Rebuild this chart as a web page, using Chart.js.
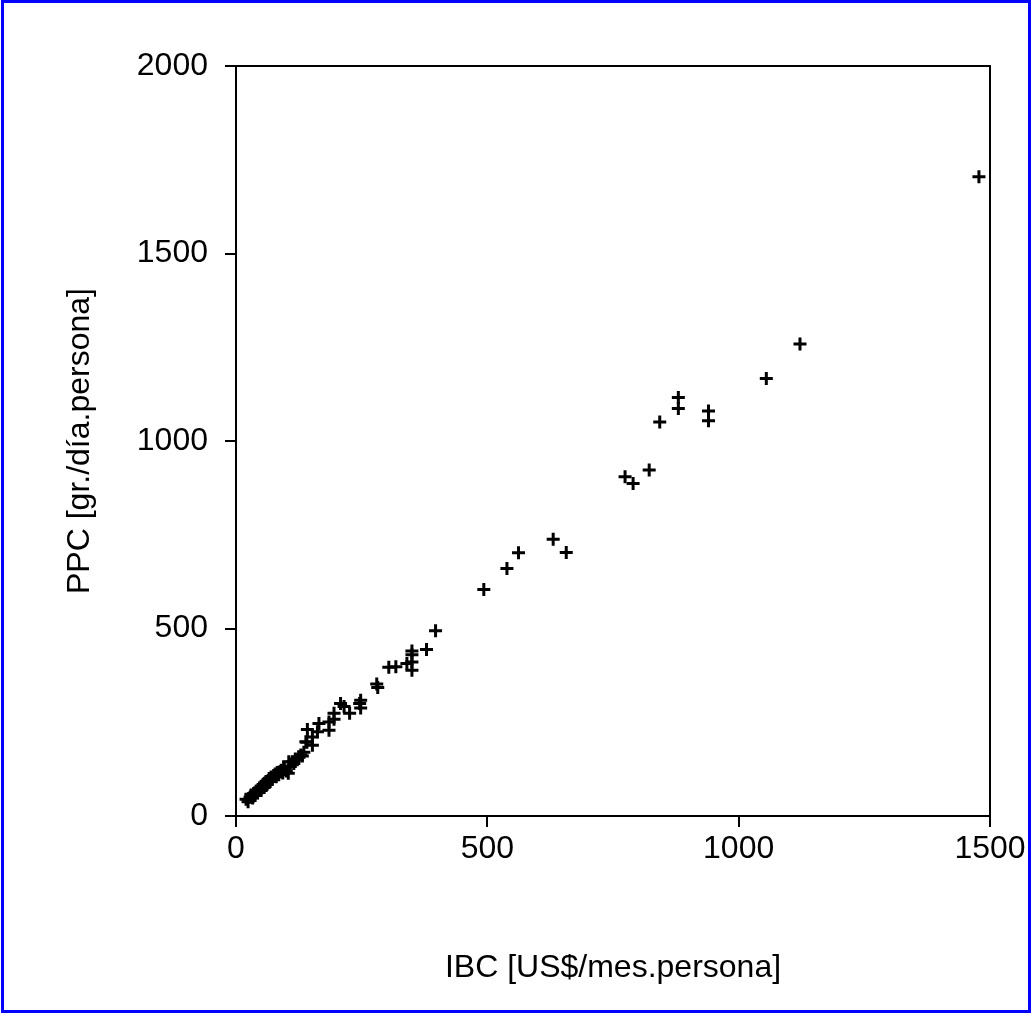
<!DOCTYPE html>
<html>
<head>
<meta charset="utf-8">
<script src="https://cdn.jsdelivr.net/npm/chart.js@4/dist/chart.umd.min.js"></script>
<style>
  html, body { margin: 0; padding: 0; background: #fff; }
  #wrap { width: 1032px; height: 1014px; position: relative; }
</style>
</head>
<body>
<div id="wrap"><canvas id="c" width="1032" height="1014"></canvas></div>
<script>
// IBC [US$/mes.persona]
const ibc = [
  1478, 1122, 1055, 880, 880, 940, 940, 843, 822, 774, 790,
  631, 657, 562, 539, 493, 397, 379, 350, 350, 350, 340, 350, 318, 304,
  280, 282, 248, 246, 248, 208, 215, 226, 195, 195, 185, 185, 165, 162, 142, 152, 152, 139, 141,
  20, 24, 28, 30, 33, 35, 38, 40, 42, 45, 47, 50, 52, 54, 56, 58, 60, 62, 64, 66, 68, 70,
  72, 75, 78, 80, 82, 85, 88, 90, 93, 96, 100, 104, 108, 112, 115, 118, 122, 125, 129, 132, 135, 105, 95
];
// PPC [gr./día.persona]
const ppc = [
  1705, 1259, 1167, 1116, 1087, 1080, 1054, 1051, 923, 905, 887,
  738, 703, 702, 660, 604, 494, 444, 440, 430, 411, 407, 389, 398, 397,
  352, 343, 309, 300, 288, 300, 292, 274, 274, 258, 251, 229, 247, 225, 231, 211, 189, 198, 197,
  45, 38, 50, 56, 48, 60, 55, 66, 62, 70, 75, 68, 80, 84, 76, 88, 92, 85, 95, 100, 92, 104,
  98, 108, 112, 105, 116, 110, 118, 122, 115, 126, 120, 114, 132, 145, 140, 152, 150, 158, 163, 160, 170, 145, 130
];
const xTicks = [0, 500, 1000, 1500];
const yTicks = [0, 500, 1000, 1500, 2000];
const xTitle = 'IBC [US$/mes.persona]';
const yTitle = 'PPC [gr./día.persona]';

const points = ibc.map((x, i) => ({ x: x, y: ppc[i] }));
const FONT = 'Liberation Sans, Arial, sans-serif';

const framePlugin = {
  id: 'frame',
  afterDraw(chart) {
    const { ctx, chartArea: a } = chart;
    ctx.save();
    ctx.strokeStyle = '#000';
    ctx.lineWidth = 2;
    ctx.strokeRect(a.left, a.top, a.right - a.left, a.bottom - a.top);
    ctx.strokeStyle = '#0000ff';
    ctx.lineWidth = 3;
    ctx.strokeRect(2.5, 1.5, chart.width - 5, chart.height - 4);
    ctx.restore();
  }
};

new Chart(document.getElementById('c'), {
  type: 'scatter',
  data: {
    datasets: [{
      data: points,
      pointStyle: 'cross',
      pointRadius: 6.5,
      pointHoverRadius: 6.5,
      borderColor: '#000',
      backgroundColor: '#000',
      pointBorderWidth: 3
    }]
  },
  options: {
    responsive: false,
    animation: false,
    events: [],
    layout: { padding: { left: 55, right: 42, top: 66, bottom: 20 } },
    plugins: { legend: { display: false }, tooltip: { enabled: false } },
    scales: {
      x: {
        type: 'linear', min: 0, max: 1500,
        afterBuildTicks(s) { s.ticks = xTicks.map(v => ({ value: v })); },
        afterFit(s) { s.height = 178; },
        grid: { drawOnChartArea: false, drawTicks: true, tickLength: 11, color: '#000', lineWidth: 2 },
        border: { display: true, color: '#000', width: 2 },
        ticks: { color: '#000', font: { family: FONT, size: 32 }, padding: 3, maxRotation: 0, callback: v => String(v) },
        title: { display: true, text: xTitle, color: '#000', font: { family: FONT, size: 32 }, padding: { top: 0, bottom: 7 } }
      },
      y: {
        type: 'linear', min: 0, max: 2000,
        afterBuildTicks(s) { s.ticks = yTicks.map(v => ({ value: v })); },
        afterFit(s) { s.width = 181; },
        grid: { drawOnChartArea: false, drawTicks: true, tickLength: 11, color: '#000', lineWidth: 2 },
        border: { display: true, color: '#000', width: 2 },
        ticks: { color: '#000', font: { family: FONT, size: 32 }, padding: 17, callback: v => String(v) },
        title: { display: true, text: yTitle, color: '#000', font: { family: FONT, size: 32 }, padding: { top: 6, bottom: 0 } }
      }
    }
  },
  plugins: [framePlugin]
});
</script>
</body>
</html>
